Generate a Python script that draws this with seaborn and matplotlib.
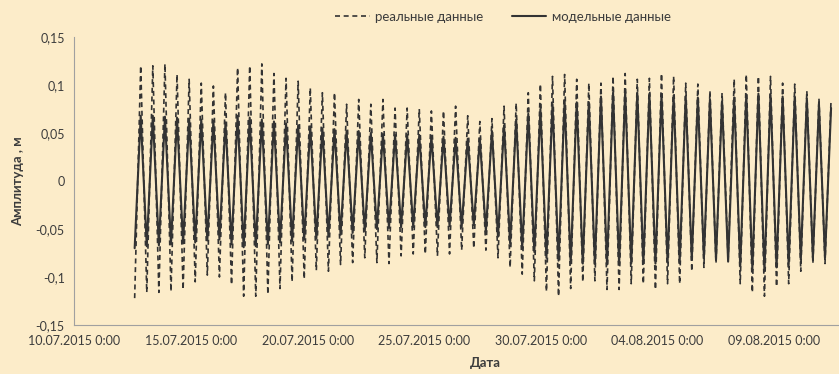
import pandas as pd
import matplotlib.pyplot as plt
import matplotlib.dates as mdates
from matplotlib.lines import Line2D
import seaborn as sns

# =============================================================================
# Data (peaks and troughs of each tidal cycle)
# =============================================================================

real_highs = [0.120, 0.120, 0.122, 0.111, 0.106, 0.102, 0.099, 0.092, 0.118,
              0.120, 0.122, 0.112, 0.107, 0.104, 0.097, 0.092, 0.092, 0.080, 0.085,
              0.080, 0.085, 0.076, 0.076, 0.075, 0.073, 0.073, 0.078, 0.068, 0.062,
              0.065, 0.078, 0.081, 0.092, 0.101, 0.109, 0.111, 0.106, 0.102,
              0.102, 0.109, 0.112, 0.106, 0.107, 0.112, 0.109, 0.102, 0.101, 0.094,
              0.092, 0.106, 0.111, 0.109, 0.109, 0.102, 0.101, 0.094, 0.086, 0.085]

real_lows = [-0.122, -0.116, -0.116, -0.115, -0.113, -0.105, -0.098, -0.100, -0.108,
             -0.120, -0.120, -0.118, -0.112, -0.105, -0.102, -0.093, -0.094, -0.087, -0.085,
             -0.080, -0.085, -0.086, -0.078, -0.076, -0.076, -0.078, -0.076, -0.072, -0.070,
             -0.072, -0.080, -0.090, -0.097, -0.104, -0.115, -0.120, -0.112, -0.105,
             -0.104, -0.113, -0.113, -0.107, -0.107, -0.113, -0.107, -0.107, -0.094, -0.090,
             -0.086, -0.083, -0.107, -0.116, -0.120, -0.110, -0.107, -0.094, -0.086, -0.086]

model_highs = [0.068, 0.068, 0.067, 0.066, 0.065, 0.064, 0.063, 0.061, 0.068,
               0.066, 0.064, 0.062, 0.060, 0.058, 0.057, 0.055, 0.054, 0.052, 0.052,
               0.050, 0.049, 0.048, 0.048, 0.048, 0.047, 0.046, 0.045, 0.044, 0.044,
               0.052, 0.058, 0.064, 0.070, 0.075, 0.080, 0.083, 0.082, 0.082,
               0.088, 0.092, 0.093, 0.092, 0.091, 0.090, 0.089, 0.088, 0.087, 0.085,
               0.083, 0.087, 0.090, 0.091, 0.090, 0.088, 0.088, 0.086, 0.080, 0.076]

model_lows = [-0.070, -0.068, -0.067, -0.066, -0.065, -0.064, -0.062, -0.061, -0.066,
              -0.069, -0.068, -0.066, -0.064, -0.063, -0.061, -0.060, -0.058, -0.056, -0.054,
              -0.052, -0.050, -0.049, -0.048, -0.048, -0.048, -0.048, -0.047, -0.048, -0.046,
              -0.052, -0.058, -0.065, -0.070, -0.074, -0.080, -0.083, -0.086, -0.086,
              -0.086, -0.087, -0.087, -0.086, -0.086, -0.086, -0.085, -0.084, -0.082, -0.080,
              -0.082, -0.084, -0.089, -0.092, -0.094, -0.090, -0.087, -0.082, -0.080, -0.080]

start_time = '2015-07-12 14:00'
half_cycle = '374min'

tick_dates = ['2015-07-10', '2015-07-15', '2015-07-20', '2015-07-25',
              '2015-07-30', '2015-08-04', '2015-08-09']
y_ticks = [-0.15, -0.1, -0.05, 0, 0.05, 0.1, 0.15]
y_tick_labels = ['-0,15', '-0,1', '-0,05', '0', '0,05', '0,1', '0,15']

# =============================================================================
# Build the series: trough, peak, trough, peak ...
# =============================================================================

real_vals = []
model_vals = []
for lo, hi in zip(real_lows, real_highs):
    real_vals += [lo, hi]
for lo, hi in zip(model_lows, model_highs):
    model_vals += [lo, hi]

times = pd.date_range(start_time, periods=len(real_vals), freq=half_cycle)
df = pd.DataFrame({'time': times, 'real': real_vals, 'model': model_vals})

# =============================================================================
# Plot
# =============================================================================

bg = '#fcecc9'
text_col = '#3c3c3c'
line_col = '#333333'

sns.set_theme(style='white')
plt.rcParams['font.family'] = ['Lato', 'DejaVu Sans']

fig = plt.figure(figsize=(8.39, 3.74), dpi=100, facecolor=bg)
ax = fig.add_axes([0.0887, 0.131, 0.9113, 0.770])
ax.set_facecolor(bg)

sns.lineplot(data=df, x='time', y='real', ax=ax, color=line_col,
             linewidth=1.2, linestyle=(0, (3, 2.2)))
sns.lineplot(data=df, x='time', y='model', ax=ax, color=line_col,
             linewidth=1.5)

ax.set_ylim(-0.15, 0.15)
ax.set_xlim(pd.Timestamp('2015-07-10'), pd.Timestamp('2015-08-11 19:00'))

ax.set_yticks(y_ticks)
ax.set_yticklabels(y_tick_labels)
ax.set_xticks([pd.Timestamp(d) for d in tick_dates])
ax.xaxis.set_major_formatter(mdates.DateFormatter('%d.%m.%Y 0:00'))

ax.tick_params(axis='both', colors='#a0a0a0', labelcolor=text_col,
               labelsize=9, length=4, width=0.8, direction='out')
ax.tick_params(axis='x', pad=3)
ax.tick_params(axis='y', pad=3)

for side in ['top', 'right']:
    ax.spines[side].set_visible(False)
for side in ['left', 'bottom']:
    ax.spines[side].set_color('#a0a0a0')
    ax.spines[side].set_linewidth(0.8)

ax.set_xlabel('Дата', fontsize=9.5, fontweight='bold', color=text_col)
ax.xaxis.set_label_coords(0.537, -0.11)
ax.set_ylabel('Амплитуда , м', fontsize=9.5, fontweight='bold', color=text_col)
ax.yaxis.set_label_coords(-0.066, 0.5)

handles = [Line2D([], [], color=line_col, linewidth=1.2, linestyle=(0, (3, 2.2))),
           Line2D([], [], color=line_col, linewidth=1.5)]
fig.legend(handles, ['реальные данные', 'модельные данные'], loc='center',
           bbox_to_anchor=(503 / 839, 1 - 17 / 374), ncol=2, frameon=False,
           fontsize=9.5, labelcolor=text_col, handlelength=2.6,
           handletextpad=0.4, columnspacing=2.2)

plt.savefig('out.png', dpi=100, facecolor=bg)
